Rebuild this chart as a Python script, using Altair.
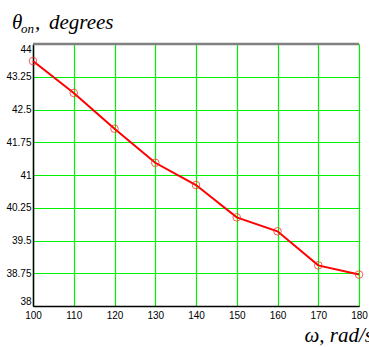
import altair as alt
import pandas as pd

omega = [100, 110, 120, 130, 140, 150, 160, 170, 180]
theta = [43.61, 42.88, 42.06, 41.28, 40.77, 40.03, 39.71, 38.93, 38.72]
x_ticks = [100, 110, 120, 130, 140, 150, 160, 170, 180]
y_ticks = [38, 38.75, 39.5, 40.25, 41, 41.75, 42.5, 43.25, 44]

df = pd.DataFrame({"omega": omega, "theta": theta})

xs = alt.Scale(domain=[100, 180], nice=False, zero=False)
ys = alt.Scale(domain=[38, 44], nice=False, zero=False)

common_axis = dict(
    labelFont="Liberation Sans", labelFontSize=10, labelColor="black",
    ticks=False, grid=True, gridColor="#00f000", gridWidth=1.2, gridOpacity=1,
    domainColor="black", domainWidth=1.5, title=None, labelOverlap=False,
    labelExpr="'' + datum.value",
)

x_enc = alt.X("omega:Q", scale=xs,
              axis=alt.Axis(values=x_ticks, labelPadding=4, labelFlush=False, **common_axis))
y_enc = alt.Y("theta:Q", scale=ys,
              axis=alt.Axis(values=y_ticks, labelPadding=2, labelFlush=True, **common_axis))

base = alt.Chart(df).encode(x=x_enc, y=y_enc)

line = base.mark_line(color="#ff0000", strokeWidth=2)
pts = base.mark_point(shape="circle", filled=False, color="#ff2020", size=58,
                      strokeWidth=1, opacity=0.75)

one = alt.Data(values=[{}])
top_rule = alt.Chart(one).mark_rule(color="#808080", strokeWidth=2.5).encode(
    x=alt.value(0), x2=alt.value(326), y=alt.value(0))

serif = "Liberation Serif"
def txt(s, x, y, size=21, align="left"):
    return alt.Chart(one).mark_text(font=serif, fontStyle="italic", fontSize=size,
                                    align=align, baseline="alphabetic").encode(
        x=alt.value(x), y=alt.value(y), text=alt.value(s))

t1 = txt("θ", -21, -15)
t2 = txt("on", -12, -11, size=13)
t3 = txt(",", 2, -15)
t4 = txt("degrees", 16, -15)
t5 = txt("ω, rad/s", 340, 297.5, align="right")

chart = alt.layer(line, pts, top_rule, t1, t2, t3, t4, t5).properties(
    width=326, height=262,
    autosize=alt.AutoSizeParams(type="none"),
    padding={"left": 33, "top": 44, "right": 10, "bottom": 41},
).configure_view(stroke="black", strokeWidth=1).configure(background="white")

chart.save("out.html", embed_options={"renderer": "svg", "actions": False})
